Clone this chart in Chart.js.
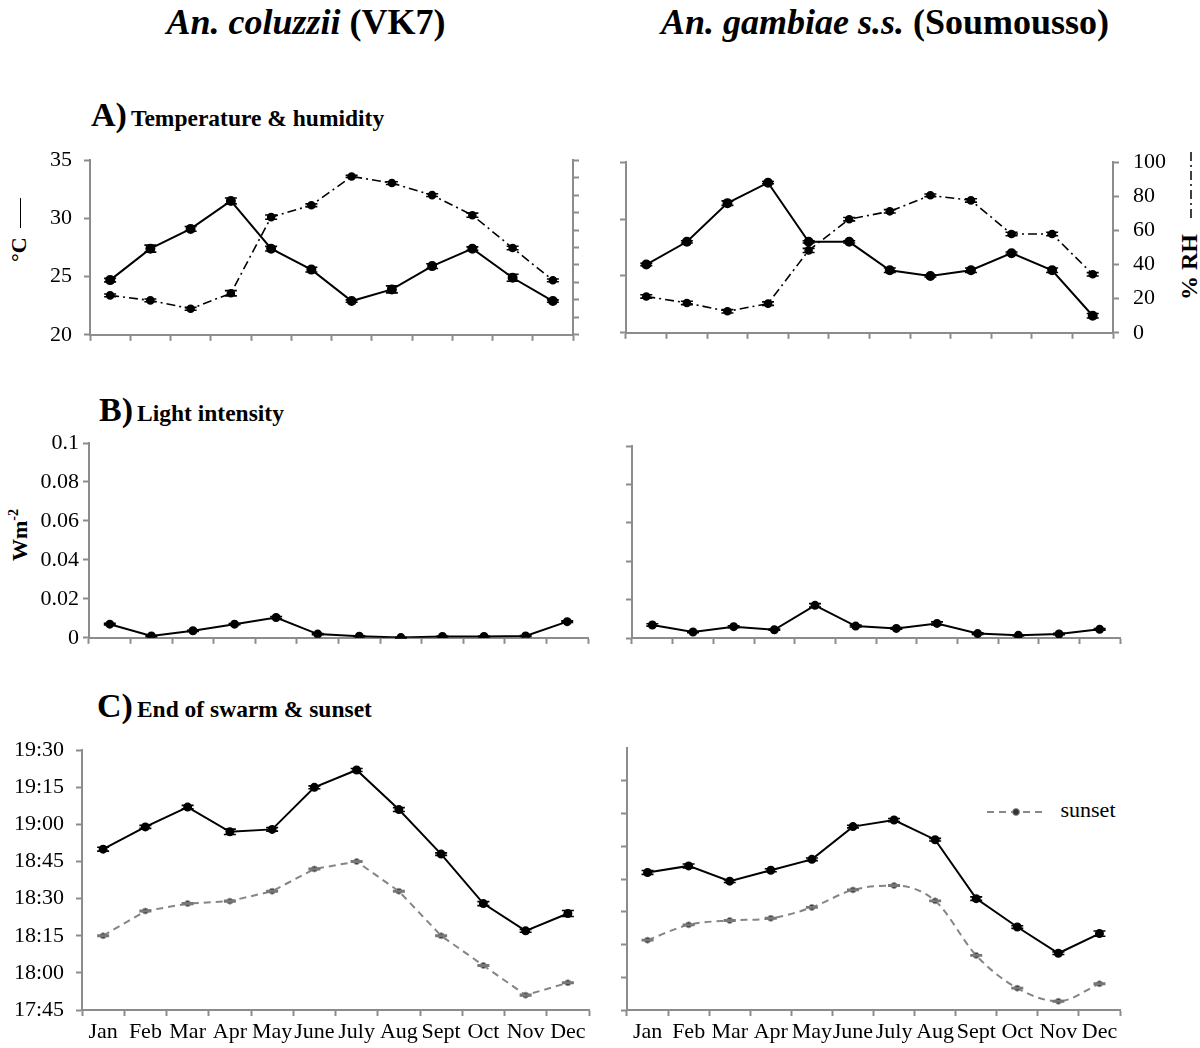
<!DOCTYPE html>
<html>
<head>
<meta charset="utf-8">
<script src="https://cdn.jsdelivr.net/npm/chart.js@4.4.1/dist/chart.umd.min.js"></script>
<style>
  body { margin: 0; background: #fff; }
  #page { position: relative; width: 1200px; height: 1048px; font-family: 'Liberation Serif', serif; color: #000; overflow: hidden; }
  canvas { position: absolute; }
  .title { position: absolute; top: 2px; font-size: 36px; font-weight: bold; white-space: nowrap; transform: translateX(-50%); line-height: 40px; }
  .panel { position: absolute; white-space: nowrap; font-weight: bold; line-height: 1; }
  .panel .big { font-size: 34px; }
  .panel .small { font-size: 23.5px; }
  .rot { position: absolute; white-space: nowrap; font-weight: bold; transform: translate(-50%, -50%) rotate(-90deg); line-height: 1; }
  .legend { position: absolute; left: 985px; top: 797px; font-size: 22px; white-space: nowrap; }
</style>
</head>
<body>
<div id="page">
  <div class="title" style="left:306px"><i>An. coluzzii</i> (VK7)</div>
  <div class="title" style="left:885px"><i>An. gambiae s.s.</i> (Soumousso)</div>

  <div class="panel" style="left:91px; top:98px"><span class="big">A)</span> <span class="small">Temperature &amp; humidity</span></div>
  <div class="panel" style="left:99px; top:393px"><span class="big">B)</span> <span class="small">Light intensity</span></div>
  <div class="panel" style="left:97px; top:689px"><span class="big">C)</span> <span class="small">End of swarm &amp; sunset</span></div>

  <div class="rot" style="left:19px; top:230px; font-size:22px">°C <span style="display:inline-block; width:30px; height:1px; background:#000; vertical-align:middle; margin-left:4px"></span></div>
  <div class="rot" style="left:19px; top:535px; font-size:22px">Wm<sup style="font-size:14px">-2</sup></div>
  <div class="rot" style="left:1189px; top:226px; font-size:24px">% RH <svg width="66" height="8" style="vertical-align:middle; margin-left:10px"><line x1="0" y1="4" x2="66" y2="4" stroke="#000" stroke-width="1.5" stroke-dasharray="9,4,2,4"/></svg></div>

  <div class="legend">
    <svg width="60" height="24" style="vertical-align:middle"><line x1="2" y1="12" x2="58" y2="12" stroke="#888" stroke-width="2" stroke-dasharray="7,5"/><circle cx="31" cy="12" r="3.5" fill="#333" stroke="#999" stroke-width="1"/></svg>
    <span style="margin-left:10px">sunset</span>
  </div>

  <canvas id="aLeft"></canvas>
  <canvas id="aRight"></canvas>
  <canvas id="bLeft"></canvas>
  <canvas id="bRight"></canvas>
  <canvas id="cLeft"></canvas>
  <canvas id="cRight"></canvas>
</div>

<script>
const months = ['Jan', 'Feb', 'Mar', 'Apr', 'May', 'June', 'July', 'Aug', 'Sept', 'Oct', 'Nov', 'Dec'];

// A) temperature (°C) and relative humidity (%)
const tempVK7 = [24.7, 27.4, 29.1, 31.5, 27.4, 25.6, 22.9, 23.9, 25.9, 27.4, 24.9, 22.9];
const tempVK7Err = [0.15, 0.3, 0.2, 0.25, 0.2, 0.2, 0.1, 0.3, 0.2, 0.15, 0.3, 0.1];
const rhVK7 = [22.6, 19.7, 14.9, 23.8, 67.4, 74.2, 90.7, 86.9, 80.0, 68.5, 49.7, 31.2];
const rhVK7Err = [0.8, 0.8, 0.8, 1.5, 1.2, 0.8, 0.6, 0.8, 0.8, 1.2, 1.0, 0.8];
const tempSou = [26.0, 28.0, 31.4, 33.2, 28.0, 28.0, 25.5, 25.0, 25.5, 27.0, 25.5, 21.5];
const tempSouErr = [0.1, 0.1, 0.2, 0.1, 0.1, 0.1, 0.2, 0.1, 0.2, 0.1, 0.2, 0.2];
const rhSou = [21.3, 17.5, 12.6, 17.1, 48.3, 66.6, 71.2, 80.6, 77.6, 57.9, 57.9, 34.3];
const rhSouErr = [1.0, 1.0, 1.0, 1.0, 1.2, 1.0, 1.0, 0.8, 1.0, 1.0, 1.0, 1.0];

// B) light intensity (W m-2)
const lightVK7 = [0.0070, 0.0009, 0.0036, 0.0070, 0.0104, 0.0019, 0.0008, 0.0001, 0.0007, 0.0007, 0.0009, 0.0083];
const lightVK7Err = [0.0004, 0.0003, 0.0003, 0.0003, 0.0005, 0.0003, 0.0002, 0.0002, 0.0002, 0.0002, 0.0002, 0.0004];
const lightSou = [0.0068, 0.0031, 0.0059, 0.0043, 0.0170, 0.0062, 0.0050, 0.0076, 0.0023, 0.0014, 0.0021, 0.0045];
const lightSouErr = [0.0006, 0.0004, 0.0005, 0.0003, 0.0009, 0.0005, 0.0004, 0.0008, 0.0004, 0.0003, 0.0004, 0.0004];

// C) end of swarm and sunset (hh:mm)
const swarmVK7 = ['18:50', '18:59', '19:07', '18:57', '18:58', '19:15', '19:22', '19:06', '18:48', '18:28', '18:17', '18:24'];
const swarmVK7Err = [0.8, 0.6, 0.7, 1.1, 0.7, 0.6, 0.6, 0.8, 0.5, 0.8, 0.6, 1.2];
const sunsetVK7 = ['18:15', '18:25', '18:28', '18:29', '18:33', '18:42', '18:45', '18:33', '18:15', '18:03', '17:51', '17:56'];
const swarmSou = ['18:48', '18:51', '18:44', '18:49', '18:54', '19:09', '19:12', '19:03', '18:36', '18:23', '18:11', '18:20'];
const swarmSouErr = [0.9, 0.9, 0.6, 0.7, 0.6, 0.6, 0.7, 0.6, 0.8, 0.6, 0.6, 1.2];
const sunsetSou = ['18:17', '18:24', '18:26', '18:27', '18:32', '18:40', '18:42', '18:35', '18:10', '17:55', '17:49', '17:57'];
const sunsetErr = [0.3, 0.3, 0.3, 0.3, 0.3, 0.3, 0.3, 0.3, 0.3, 0.3, 0.3, 0.3];

const tempTicks = [20, 25, 30, 35];
const rhTicks = [0, 20, 40, 60, 80, 100];
const lightTicks = [0, 0.02, 0.04, 0.06, 0.08, 0.1];
const timeTicks = ['17:45', '18:00', '18:15', '18:30', '18:45', '19:00', '19:15', '19:30'];

const GRAY = '#8c8c8c';

function toMin(s) {
  const p = s.split(':');
  return (+p[0]) * 60 + (+p[1]);
}
function fmtTime(v) {
  return Math.floor(v / 60) + ':' + String(Math.round(v % 60)).padStart(2, '0');
}

Chart.defaults.font.family = "'Liberation Serif', serif";
Chart.defaults.font.size = 22;
Chart.defaults.color = '#000';
Chart.defaults.animation = false;

// vertical error bars with caps, placed through the y scale
const errorBars = {
  id: 'errorBars',
  afterDatasetsDraw(chart) {
    const ctx = chart.ctx;
    chart.data.datasets.forEach((ds, i) => {
      if (!ds.errors) return;
      const meta = chart.getDatasetMeta(i);
      const ys = chart.scales[meta.yAxisID];
      ctx.save();
      ctx.strokeStyle = ds.errorColor || '#000';
      ctx.lineWidth = 1.6;
      meta.data.forEach((pt, j) => {
        const v = ds.data[j], e = ds.errors[j];
        const y1 = ys.getPixelForValue(v + e), y2 = ys.getPixelForValue(v - e);
        ctx.beginPath();
        ctx.moveTo(pt.x, y1); ctx.lineTo(pt.x, y2);
        ctx.moveTo(pt.x - 6, y1); ctx.lineTo(pt.x + 6, y1);
        ctx.moveTo(pt.x - 6, y2); ctx.lineTo(pt.x + 6, y2);
        ctx.stroke();
      });
      ctx.restore();
    });
  }
};

function xAxis(h, showLabels) {
  return {
    type: 'category',
    offset: true,
    grid: { offset: true, drawOnChartArea: false, drawTicks: true, tickLength: 6, tickColor: GRAY, tickWidth: 2 },
    border: { display: true, color: GRAY, width: 2 },
    ticks: { display: showLabels, autoSkip: false, maxRotation: 0, padding: 3 },
    afterFit(s) { s.height = h; }
  };
}

function yAxis(pos, w, min, max, step, labels, fmt, pad, hideTop) {
  return {
    type: 'linear',
    position: pos,
    min: min, max: max,
    grid: {
      drawOnChartArea: false, drawTicks: true, tickLength: 6, tickWidth: 2,
      tickColor: ctx => (hideTop && ctx.tick && ctx.tick.value === max) ? 'rgba(0,0,0,0)' : GRAY
    },
    border: { display: true, color: GRAY, width: 2 },
    ticks: { display: labels, stepSize: step, padding: pad, callback: fmt || (v => v) },
    afterFit(s) { s.width = w; }
  };
}

function line(label, data, opts) {
  return Object.assign({
    label: label,
    data: data,
    borderColor: '#000',
    borderWidth: 2,
    pointRadius: 4,
    pointBackgroundColor: '#000',
    pointBorderColor: '#000',
    tension: 0,
    yAxisID: 'y'
  }, opts);
}

function place(id, box) {
  const c = document.getElementById(id);
  c.width = box.w; c.height = box.h;
  c.style.left = box.x + 'px'; c.style.top = box.y + 'px';
  c.style.width = box.w + 'px'; c.style.height = box.h + 'px';
  return c;
}

function make(id, box, plot, datasets, scales) {
  const canvas = place(id, box);
  const hasRight = Object.values(scales).some(s => s.position === 'right');
  return new Chart(canvas, {
    type: 'line',
    data: { labels: months, datasets: datasets },
    options: {
      responsive: false,
      devicePixelRatio: 1,
      layout: {
        padding: {
          top: plot.t - box.y,
          left: 0,
          right: hasRight ? 0 : box.x + box.w - plot.r,
          bottom: 0
        }
      },
      plugins: { legend: { display: false }, tooltip: { enabled: false } },
      scales: scales
    },
    plugins: [errorBars]
  });
}

const rhStyle = { borderWidth: 1.6, borderDash: [9, 4, 2, 4], pointRadius: 3.5, yAxisID: 'rh' };
const sunsetStyle = {
  borderColor: '#858585', borderWidth: 2, borderDash: [7, 5],
  pointRadius: 3, pointBackgroundColor: '#333', pointBorderColor: '#999', pointBorderWidth: 1,
  errorColor: '#777'
};

// A) left: VK7
(function () {
  const box = { x: 0, y: 135, w: 600, h: 225 };
  const plot = { l: 90, r: 573, t: 155, b: 345 };
  make('aLeft', box, plot, [
    line('°C', tempVK7, { errors: tempVK7Err }),
    line('% RH', rhVK7, Object.assign({ errors: rhVK7Err }, rhStyle))
  ], {
    x: xAxis(box.y + box.h - plot.b, false),
    y: yAxis('left', plot.l - box.x, tempTicks[0], tempTicks[tempTicks.length - 1], 5, true, null, 12),
    rh: yAxis('right', box.x + box.w - plot.r, rhTicks[0], rhTicks[rhTicks.length - 1], 10, false)
  });
})();

// A) right: Soumousso
(function () {
  const box = { x: 600, y: 135, w: 600, h: 225 };
  const plot = { l: 626, r: 1113, t: 155, b: 345 };
  make('aRight', box, plot, [
    line('°C', tempSou, { errors: tempSouErr }),
    line('% RH', rhSou, Object.assign({ errors: rhSouErr }, rhStyle))
  ], {
    x: xAxis(box.y + box.h - plot.b, false),
    y: yAxis('left', plot.l - box.x, tempTicks[0], tempTicks[tempTicks.length - 1], 5, false),
    rh: yAxis('right', box.x + box.w - plot.r, rhTicks[0], rhTicks[rhTicks.length - 1], 20, true, null, 14)
  });
})();

// B) light intensity
(function () {
  const box = { x: 0, y: 425, w: 600, h: 230 };
  const plot = { l: 89, r: 588, t: 443, b: 638 };
  make('bLeft', box, plot, [
    line('Wm-2', lightVK7, { errors: lightVK7Err, pointRadius: 3.5 })
  ], {
    x: xAxis(box.y + box.h - plot.b, false),
    y: yAxis('left', plot.l - box.x, lightTicks[0], lightTicks[lightTicks.length - 1], 0.02, true, v => String(+v.toFixed(2)), 4)
  });
})();

(function () {
  const box = { x: 600, y: 425, w: 600, h: 230 };
  const plot = { l: 632, r: 1120, t: 446, b: 638 };
  make('bRight', box, plot, [
    line('Wm-2', lightSou, { errors: lightSouErr, pointRadius: 3.5 })
  ], {
    x: xAxis(box.y + box.h - plot.b, false),
    y: yAxis('left', plot.l - box.x, lightTicks[0], lightTicks[lightTicks.length - 1], 0.02, false)
  });
})();

// C) end of swarm & sunset
(function () {
  const box = { x: 0, y: 725, w: 600, h: 323 };
  const plot = { l: 82, r: 589, t: 747, b: 1010 };
  make('cLeft', box, plot, [
    line('end of swarm', swarmVK7.map(toMin), { errors: swarmVK7Err, pointRadius: 3.5 }),
    line('sunset', sunsetVK7.map(toMin), Object.assign({ errors: sunsetErr }, sunsetStyle))
  ], {
    x: xAxis(box.y + box.h - plot.b, true),
    y: yAxis('left', plot.l - box.x, toMin(timeTicks[0]), toMin(timeTicks[timeTicks.length - 1]), 15, true, fmtTime, 12)
  });
})();

(function () {
  const box = { x: 600, y: 725, w: 600, h: 323 };
  const plot = { l: 627, r: 1120, t: 748, b: 1010 };
  make('cRight', box, plot, [
    line('end of swarm', swarmSou.map(toMin), { errors: swarmSouErr, pointRadius: 3.5 }),
    line('sunset', sunsetSou.map(toMin), Object.assign({ errors: sunsetErr, cubicInterpolationMode: 'monotone' }, sunsetStyle))
  ], {
    x: xAxis(box.y + box.h - plot.b, true),
    y: yAxis('left', plot.l - box.x, toMin(timeTicks[0]), toMin(timeTicks[timeTicks.length - 1]) + 15, 15, false, fmtTime, 12, true)
  });
})();
</script>
</body>
</html>
